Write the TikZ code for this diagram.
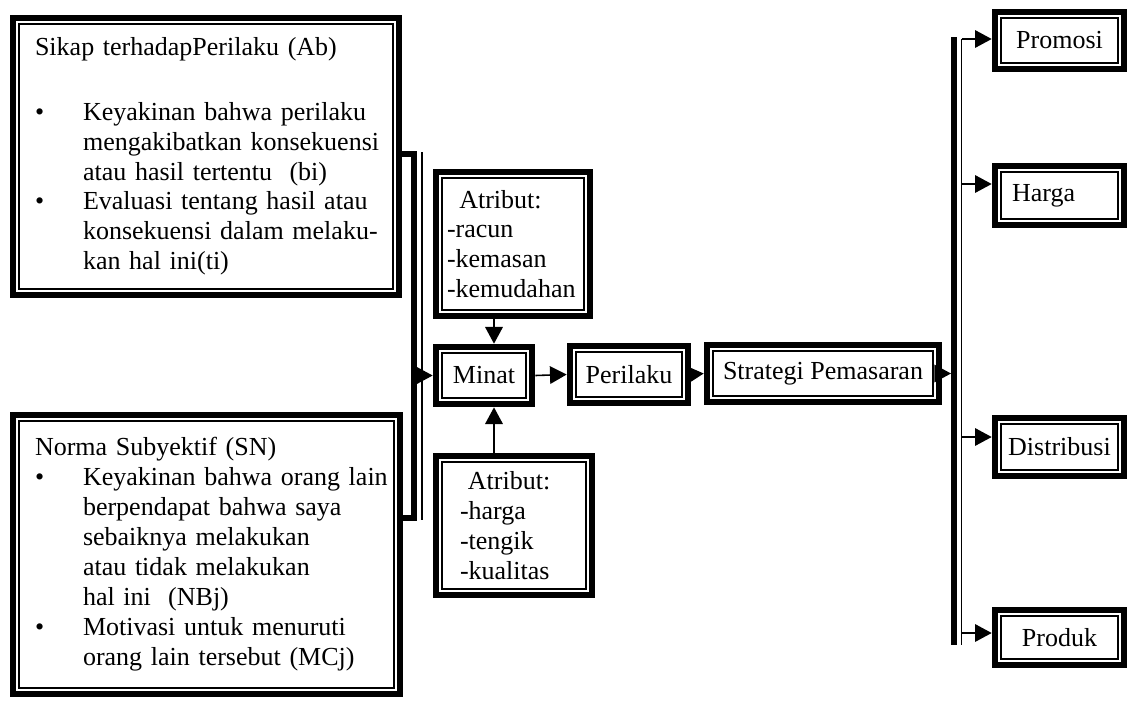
\documentclass[tikz,border=0pt]{standalone}
\usepackage{fontspec}
\setmainfont{Liberation Serif}
\usepackage{tikz}
\usetikzlibrary{positioning, arrows.meta, calc}
\setlength{\parindent}{0pt}

\begin{document}
\begin{tikzpicture}[x=0.02cm, y=-0.02cm,
  font=\fontsize{14.8}{17}\selectfont,
  kotak/.style={draw, line width=3.5pt, inner sep=0pt,
    path picture={\draw[line width=0.8pt]
      ([shift={(3.6pt,3.6pt)}]path picture bounding box.south west) rectangle
      ([shift={(-3.6pt,-3.6pt)}]path picture bounding box.north east);}},
  kecil/.style={kotak, minimum height=1.15cm, align=center},
  panah/.style={-{Triangle[length=9.5pt, width=10pt]}, line width=0.9pt},
  tebal/.style={line width=3.6pt},
  tipis/.style={line width=0.9pt}]

  \useasboundingbox (0,0) rectangle (1129,700);

  % --- Kotak sikap dan norma ---
  \node[kotak, minimum width=7.73cm, minimum height=5.55cm,
        inner xsep=0.445cm, text width=6.84cm, align=left]
    (sikap) at (206,156.5) {%
    \begin{tabular}{@{}p{0.96cm}@{}l@{}}
      \multicolumn{2}{@{}l@{}}{Sikap terhadapPerilaku (Ab)}\\[20pt]
      \textbullet & Keyakinan bahwa perilaku\\
        & mengakibatkan konsekuensi\\
        & atau hasil tertentu\ \ (bi)\\
      \textbullet & Evaluasi tentang hasil atau\\
        & konsekuensi dalam melaku-\\
        & kan hal ini(ti)
    \end{tabular}};
  \node[kotak, minimum width=7.75cm, minimum height=5.59cm,
        inner xsep=0.445cm, text width=6.86cm, align=left]
    (norma) at (206.5,554.5) {%
    \begin{tabular}{@{}p{0.96cm}@{}l@{}}
      \multicolumn{2}{@{}l@{}}{Norma Subyektif (SN)}\\
      \textbullet & Keyakinan bahwa orang lain\\
        & berpendapat bahwa saya\\
        & sebaiknya melakukan\\
        & atau tidak melakukan\\
        & hal ini\ \ (NBj)\\
      \textbullet & Motivasi untuk menuruti\\
        & orang lain tersebut (MCj)
    \end{tabular}};

  % --- Kotak atribut ---
  \node[kotak, minimum width=3.09cm, minimum height=2.89cm,
        inner xsep=0.225cm, text width=2.64cm, align=left]
    (atribA) at (513,244)
    {\hspace*{7pt}Atribut:\\-racun\\-kemasan\\-kemudahan};
  \node[kotak, minimum width=3.13cm, minimum height=2.79cm,
        inner xsep=0.485cm, text width=2.16cm, align=left]
    (atribB) at (514,525.5)
    {\hspace*{4.5pt}Atribut:\\-harga\\-tengik\\-kualitas};

  % --- Rantai tengah ---
  \node[kecil, minimum width=1.93cm] (minat) at (484,375.5) {Minat};
  \node[kecil, minimum width=2.37cm] (perilaku) at (629,374.5) {Perilaku};
  \node[kecil, minimum width=4.65cm] (strategi) at (823,373.5) {Strategi Pemasaran};

  % --- Bauran pemasaran ---
  \node[kecil, minimum width=2.59cm] (promosi) at (1059.5,40.5) {Promosi};
  \node[kotak, minimum width=2.59cm, minimum height=1.19cm,
        inner xsep=0.345cm, text width=1.9cm, align=left]
    (harga) at (1059.5,195.5) {Harga};
  \node[kecil, minimum width=2.59cm, minimum height=1.17cm]
    (distribusi) at (1059.5,447) {Distribusi};
  \node[kecil, minimum width=2.59cm, minimum height=1.11cm]
    (produk) at (1059.5,637.5) {Produk};

  % --- Garis pengumpul kiri ---
  \coordinate (kiriAtas) at (414,154);
  \coordinate (kiriBawah) at (414,518);
  \coordinate (tipisAtas) at (422,152);
  \coordinate (tipisBawah) at (422,520);
  \draw[tebal] (sikap.east |- kiriAtas) -- (kiriAtas) -- (kiriBawah)
    -- (norma.east |- kiriBawah);
  \draw[tipis] (tipisAtas) -- (tipisBawah);
  \draw[panah] (minat.west -| tipisAtas) -- (minat.west);

  % --- Atribut ke minat ---
  \coordinate (kolom) at (494,0);
  \draw[panah] (atribA.south -| kolom) -- (minat.north -| kolom);
  \draw[panah] (atribB.north -| kolom) -- (minat.south -| kolom);

  \draw[panah] (minat.east) -- (perilaku.west);
  \draw[panah] (perilaku.east) -- (strategi.west);

  % --- Garis pengumpul kanan ---
  \coordinate (kananAtas) at (954,37);
  \coordinate (kananBawah) at (954,645);
  \coordinate (tipisKananAtas) at (961.5,39);
  \coordinate (tipisKananBawah) at (961.5,645);
  \draw[tebal] (kananAtas) -- (kananBawah);
  \draw[tipis] (tipisKananAtas) -- (tipisKananBawah);
  \draw[panah] (strategi.east) -- ([xshift=-1.7pt]strategi.east -| kananAtas);

  \foreach \nama/\y in {promosi/39, harga/184, distribusi/437, produk/633}{
    \coordinate (p\nama) at (961.5,\y);
    \draw[panah] (p\nama) -- (p\nama -| \nama.west);
  }

\end{tikzpicture}
\end{document}
